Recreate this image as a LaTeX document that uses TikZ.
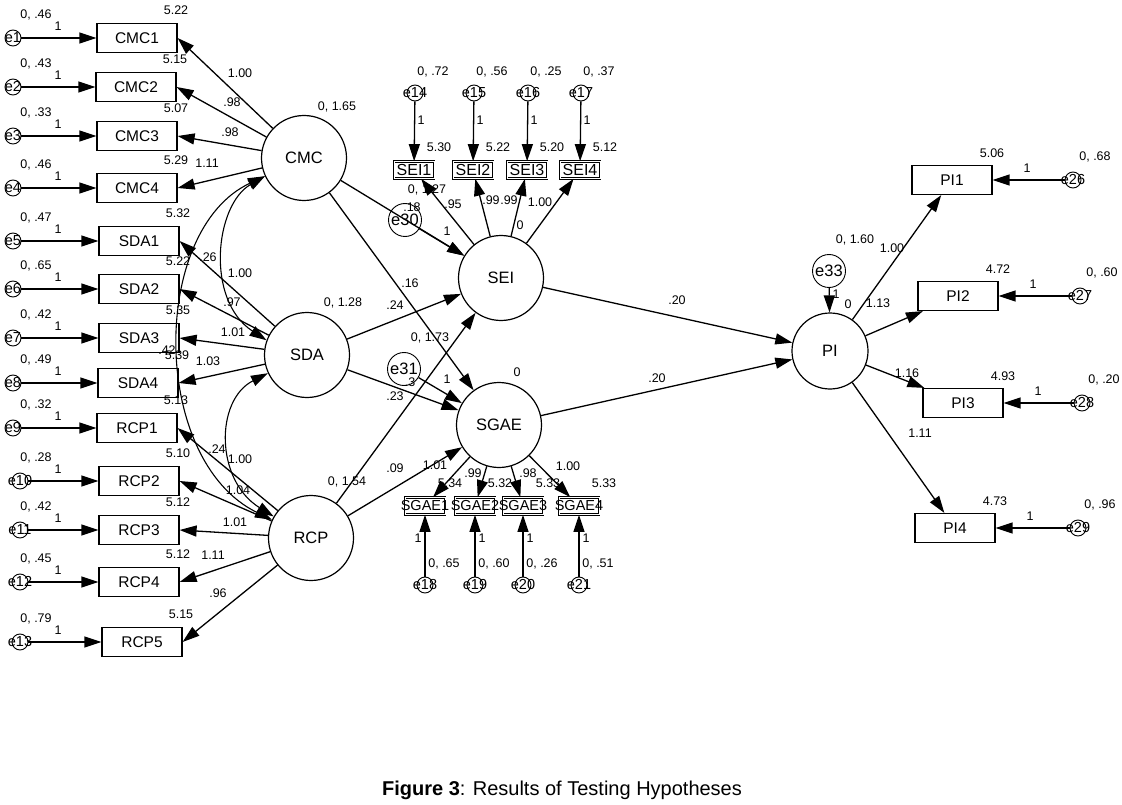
\documentclass[tikz,border=0pt]{standalone}
\usepackage{fontspec}
\setmainfont{Liberation Sans}
\usetikzlibrary{arrows.meta}

\begin{document}
\begin{tikzpicture}[x=1pt, y=-1pt,
  latent/.style={draw, circle, line width=1.2pt, minimum size=85pt, inner sep=0pt,
                 font=\fontsize{16.5}{18}\selectfont},
  obs/.style={draw, rectangle, line width=1.2pt, minimum width=80pt,
              minimum height=29pt, inner sep=0pt, font=\fontsize{15.5}{17}\selectfont},
  sobs/.style={draw, rectangle, double, double distance=0.8pt, line width=0.7pt,
               minimum width=40pt, minimum height=17pt, inner sep=0pt},
  sblab/.style={font=\fontsize{16}{17}\selectfont, inner sep=0pt},
  sglab/.style={font=\fontsize{14.5}{16}\selectfont, inner sep=0pt},
  err/.style={draw, circle, line width=0.9pt, minimum size=16pt, inner sep=0pt},
  bigerr/.style={draw, circle, line width=0.9pt, minimum size=33pt, inner sep=0pt,
                 font=\fontsize{16.5}{18}\selectfont},
  elab/.style={font=\fontsize{14.5}{16}\selectfont, inner sep=0pt},
  num/.style={font=\fontsize{12.5}{13}\selectfont, inner sep=0pt},
  arr/.style={-{Triangle[length=17pt, width=11pt]}, line width=1.3pt},
  cov/.style={{Triangle[length=17pt, width=11pt]}-{Triangle[length=17pt, width=11pt]},
              line width=1.1pt},
]
  \useasboundingbox (0,0) rectangle (1122,805);

  %% Latent variables
  \node[latent] (CMC)  at (304,158) {CMC};
  \node[latent] (SDA)  at (307,355) {SDA};
  \node[latent] (RCP)  at (311,538) {RCP};
  \node[latent] (SEI)  at (501,278) {SEI};
  \node[latent] (SGAE) at (499,425) {SGAE};
  \node[latent, minimum size=76pt] (PI) at (830,351) {PI};

  %% Left indicators with their errors
  \foreach \i/\nm/\lv/\bx/\y/\ex/\ev/\ic in {
      1/CMC1/CMC/137/38/13/.46/5.22,   2/CMC2/CMC/136/87/13/.43/5.15,
      3/CMC3/CMC/137/136/13/.33/5.07,  4/CMC4/CMC/137/188/13/.46/5.29,
      5/SDA1/SDA/139/241/13/.47/5.32,  6/SDA2/SDA/139/289/13/.65/5.22,
      7/SDA3/SDA/139/338/13/.42/5.35,  8/SDA4/SDA/138/383/13/.49/5.39,
      9/RCP1/RCP/137/428/13/.32/5.13,  10/RCP2/RCP/139/481/20/.28/5.10,
      11/RCP3/RCP/139/530/20/.42/5.12, 12/RCP4/RCP/139/582/20/.45/5.12,
      13/RCP5/RCP/142/642/20/.79/5.15}{
    \node[obs] (\nm) at (\bx,\y) {\nm};
    \node[err, label={[elab]center:e\i}] (e\i) at (\ex,\y) {};
    \draw[arr] (e\i) -- (\nm);
    \draw[arr] (\lv) -- (\nm.east);
    \node[num] (v\i) at (36,\y-23) {0, \ev};
    \node[num] (o\i) at (58,\y-12) {1};
    \node[num] (c\i) at (\bx+39,\y-28) {\ic};
  }

  %% SEI indicators (top)
  \foreach \i/\nm/\x/\ev/\ic in {14/SEI1/414/.72/5.30, 15/SEI2/473/.56/5.22,
                                 16/SEI3/527/.25/5.20, 17/SEI4/580/.37/5.12}{
    \node[sobs, label={[sblab]center:\nm}] (\nm) at (\x,170) {};
    \node[err, label={[elab]center:e\i}] (e\i) at (\x+1,93) {};
    \draw[arr] (e\i) -- (\nm);
    \draw[arr] (SEI) -- (\nm);
    \node[num] (v\i) at (\x+19,72) {0, \ev};
    \node[num] (o\i) at (\x+7,120) {1};
    \node[num] (c\i) at (\x+25,147) {\ic};
  }

  %% SGAE indicators (bottom)
  \foreach \i/\nm/\x/\ev/\ic/\dx in {18/SGAE1/425/.65/5.34/-7, 19/SGAE2/475/.60/5.32/7,
                                     20/SGAE3/523/.26/5.33/7, 21/SGAE4/579/.51/5.33/7}{
    \node[sobs, label={[sglab]center:\nm}] (\nm) at (\x,506) {};
    \node[err, label={[elab]center:e\i}] (e\i) at (\x,585) {};
    \draw[arr] (e\i) -- (\nm);
    \draw[arr] (SGAE) -- (\nm);
    \node[num] (v\i) at (\x+19,564) {0, \ev};
    \node[num] (o\i) at (\x+\dx,538) {1};
    \node[num] (c\i) at (\x+25,483) {\ic};
  }

  %% PI indicators (right)
  \foreach \i/\nm/\bx/\y/\ex/\ev/\ic in {26/PI1/952/180/1073/.68/5.06,
      27/PI2/958/296/1080/.60/4.72, 28/PI3/963/403/1082/.20/4.93,
      29/PI4/955/528/1078/.96/4.73}{
    \node[obs] (\nm) at (\bx,\y) {\nm};
    \node[err, label={[elab]center:e\i}] (e\i) at (\ex,\y) {};
    \draw[arr] (e\i) -- (\nm);
    \draw[arr] (PI) -- (\nm);
    \node[num] (v\i) at (\ex+22,\y-23) {0, \ev};
    \node[num] (o\i) at (\bx+75,\y-12) {1};
    \node[num] (c\i) at (\bx+40,\y-27) {\ic};
  }

  %% Disturbances
  \node[bigerr] (e30) at (405,220) {e30};
  \node[bigerr] (e31) at (404,369) {e31};
  \node[bigerr] (e33) at (829,271) {e33};
  \draw[arr] (e30) -- (SEI);
  \draw[arr] (e31) -- (SGAE);
  \draw[arr] (e33) -- (PI);

  %% Structural paths
  \draw[arr] (CMC) -- (SEI);
  \draw[arr] (CMC) -- (SGAE);
  \draw[arr] (SDA) -- (SEI);
  \draw[arr] (SDA) -- (SGAE);
  \draw[arr] (RCP) -- (SEI);
  \draw[arr] (RCP) -- (SGAE);
  \draw[arr] (SEI) -- (PI);
  \draw[arr] (SGAE) -- (PI);

  %% Covariances
  \draw[cov] (CMC.205) .. controls (215,205) and (205,300) .. (SDA.160);
  \draw[cov] (CMC.205) .. controls (150,230) and (150,460) .. (RCP.155);
  \draw[cov] (SDA.205) .. controls (215,400) and (215,480) .. (RCP.150);

  %% Estimates
  \foreach \px/\py/\t [count=\k] in {
      240/73/1.00, 232/102/.98, 230/132/.98, 207/163/1.11, 337/107/{0, 1.65},
      240/273/1.00, 232/302/.97, 233/332/1.01, 208/361/1.03, 343/303/{0, 1.28},
      240/459/1.00, 238/490/1.04, 235/522/1.01, 213/555/1.11, 218/593/.96,
      347/482/{0, 1.54}, 208/257/.26, 167/350/.42, 217/449/.24,
      410/283/.16, 395/305/.24, 395/396/.23, 395/468/.09, 430/338/{0, 1.73},
      427/190/{0, 1.27}, 453/204/.95, 491/200/.99, 509/200/.99, 540/202/1.00,
      520/225/0, 412/207/.18, 447/231/1,
      517/372/0, 410/382/.3, 447/379/1, 435/465/1.01, 473/473/.99, 528/473/.98,
      568/466/1.00,
      677/300/.20, 657/378/.20, 855/240/{0, 1.60}, 892/248/1.00, 878/303/1.13,
      907/373/1.16, 920/433/1.11, 836/294/1, 848/304/0}
    \node[num] (w\k) at (\px,\py) {\t};

  %% Caption
  \node[font=\fontsize{20}{22}\selectfont] (cap) at (562,790)
    {\textbf{Figure 3}: Results of Testing Hypotheses};
\end{tikzpicture}
\end{document}
